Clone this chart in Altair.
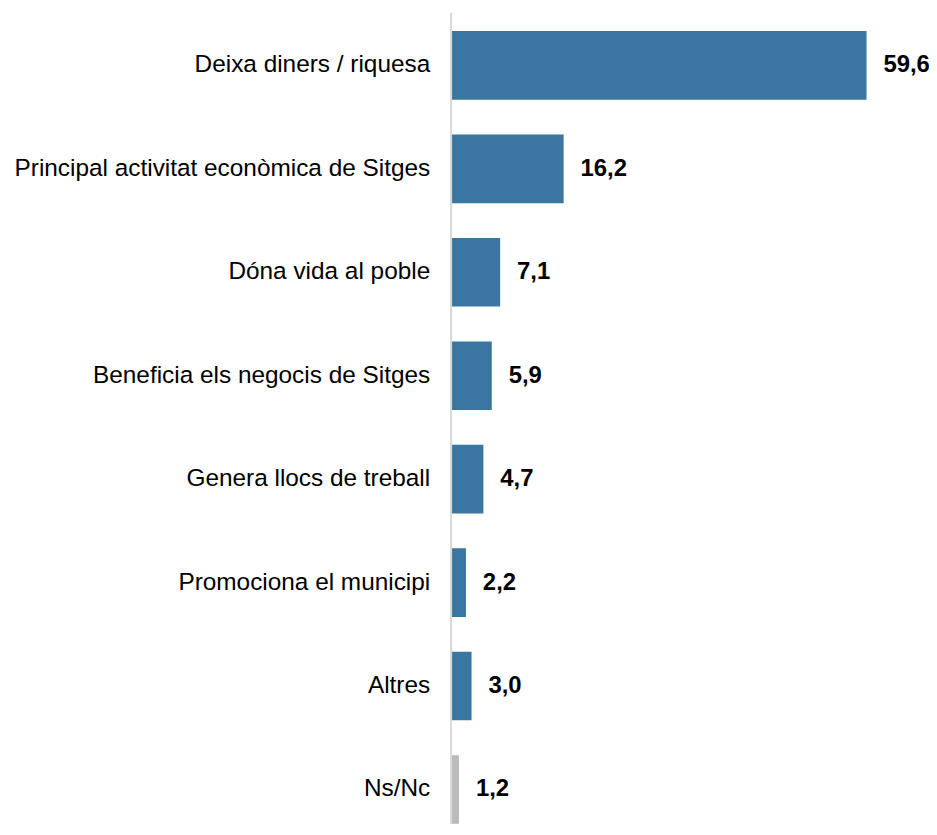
import altair as alt
import pandas as pd

categories = [
    "Deixa diners / riquesa",
    "Principal activitat econòmica de Sitges",
    "Dóna vida al poble",
    "Beneficia els negocis de Sitges",
    "Genera llocs de treball",
    "Promociona el municipi",
    "Altres",
    "Ns/Nc",
]
values = [59.6, 16.2, 7.1, 5.9, 4.7, 2.2, 3.0, 1.2]
value_labels = ["59,6", "16,2", "7,1", "5,9", "4,7", "2,2", "3,0", "1,2"]

df = pd.DataFrame({"cat": categories, "val": values, "lab": value_labels})

FONT = "Liberation Sans"
BLUE = "#3A76A0"
GRAY = "#BBBBBB"

y_enc = alt.Y(
    "cat:N",
    sort=categories,
    title=None,
    scale=alt.Scale(paddingInner=0.3365, paddingOuter=0.0913, align=1),
    axis=alt.Axis(
        labelFont=FONT,
        labelFontSize=24.5,
        labelColor="#000000",
        labelPadding=21,
        labelLimit=600,
        ticks=False,
        domain=True,
        domainColor="#D9D9D9",
        domainWidth=2,
        grid=False,
        zindex=1,
    ),
)
x_enc = alt.X("val:Q", scale=alt.Scale(domain=[0, 60], nice=False), axis=None)

bars = alt.Chart(df).mark_bar().encode(
    x=x_enc,
    y=y_enc,
    color=alt.condition(alt.datum.cat == "Ns/Nc", alt.value(GRAY), alt.value(BLUE)),
)

texts = alt.Chart(df).mark_text(
    align="left", baseline="middle", dx=17, font=FONT, fontSize=24, fontWeight="bold", color="#000000"
).encode(x=x_enc, y=y_enc, text="lab:N")

chart = (
    alt.layer(bars, texts)
    .properties(
        width=421,
        height=816,
        autosize=alt.AutoSizeParams(type="none"),
        padding={"left": 445, "top": 2, "right": 60, "bottom": 0},
    )
    .configure_view(stroke=None)
)

chart.save("out.html", embed_options={"renderer": "svg", "actions": False})
